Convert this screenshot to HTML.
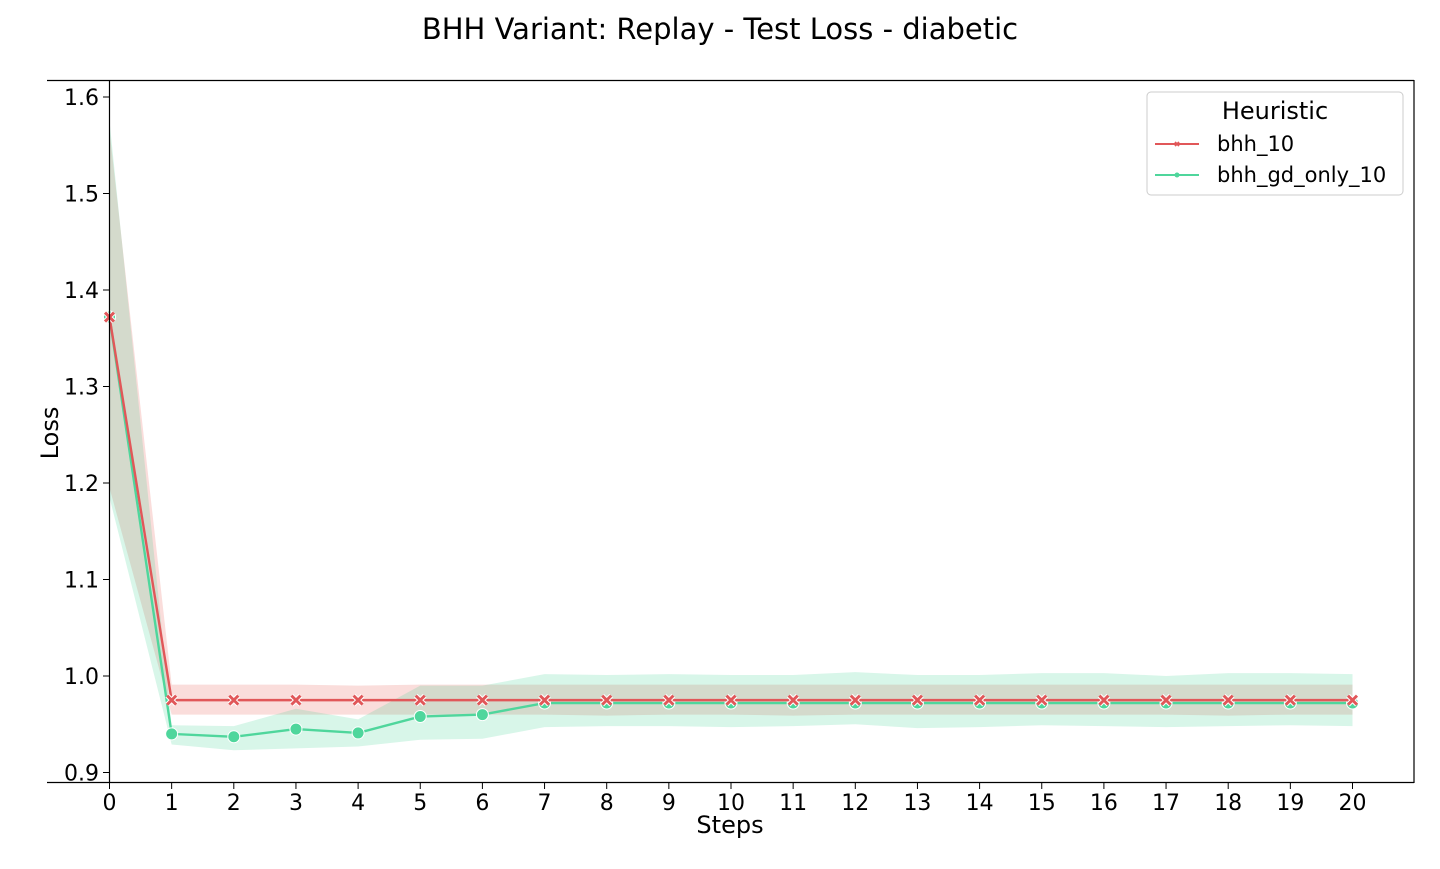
<!DOCTYPE html>
<html><head><meta charset="utf-8"><style>
body{margin:0;background:#fff;font-family:"Liberation Sans","DejaVu Sans",sans-serif}
svg text{font-family:"DejaVu Sans","Liberation Sans",sans-serif}
</style></head><body>
<svg id="c" width="1440" height="864" xmlns="http://www.w3.org/2000/svg">
<text x="720" y="39" font-size="29" text-anchor="middle">BHH Variant: Replay - Test Loss - diabetic</text>
<g id="bands"></g><g id="lines"></g>
<line x1="47" y1="80.5" x2="1414" y2="80.5" stroke="#000" stroke-width="1.2"/>
<line x1="47" y1="782.5" x2="1414" y2="782.5" stroke="#000" stroke-width="1.2"/>
<line x1="1414" y1="80" x2="1414" y2="783" stroke="#000" stroke-width="1.2"/>
<line x1="109.5" y1="80" x2="109.5" y2="783" stroke="#000" stroke-width="1.2"/>
<g id="ticks"></g>
<text x="730" y="833" font-size="24" text-anchor="middle">Steps</text>
<text transform="translate(58,433) rotate(-90)" font-size="24" text-anchor="middle">Loss</text>
<g>
<rect x="1147" y="92" width="256" height="103" rx="4" fill="#fff" stroke="#ccc"/>
<text x="1275" y="119" font-size="24" text-anchor="middle">Heuristic</text>
<line x1="1155" y1="144" x2="1199" y2="144" stroke="#e15759" stroke-width="2"/>
<path d="M1175,142L1179,146M1175,146L1179,142" stroke="#e15759" stroke-width="1.8"/>
<text x="1217" y="151" font-size="21">bhh_10</text>
<line x1="1155" y1="175" x2="1199" y2="175" stroke="#4fd69c" stroke-width="2"/>
<circle cx="1177" cy="175" r="2.5" fill="#4fd69c"/>
<text x="1217" y="182" font-size="21">bhh_gd_only_10</text>
</g>
</svg>
<script>
const steps=[0,1,2,3,4,5,6,7,8,9,10,11,12,13,14,15,16,17,18,19,20];
const redMean=[1.372,0.975,0.975,0.975,0.975,0.975,0.975,0.975,0.975,0.975,0.975,0.975,0.975,0.975,0.975,0.975,0.975,0.975,0.975,0.975,0.975];
const redLo=[1.195,0.960,0.960,0.960,0.960,0.960,0.960,0.960,0.959,0.960,0.960,0.959,0.960,0.960,0.960,0.960,0.960,0.960,0.959,0.960,0.960];
const redHi=[1.565,0.991,0.991,0.991,0.990,0.991,0.991,0.991,0.991,0.991,0.991,0.991,0.991,0.991,0.991,0.991,0.991,0.991,0.991,0.991,0.991];
const grnMean=[1.372,0.940,0.937,0.945,0.941,0.958,0.960,0.972,0.972,0.972,0.972,0.972,0.972,0.972,0.972,0.972,0.972,0.972,0.972,0.972,0.972];
const grnLo=[1.185,0.929,0.923,0.925,0.927,0.934,0.935,0.947,0.948,0.948,0.947,0.948,0.950,0.946,0.947,0.949,0.948,0.947,0.948,0.949,0.948];
const grnHi=[1.575,0.949,0.948,0.966,0.955,0.990,0.990,1.002,1.001,1.002,1.001,1.001,1.004,1.001,1.001,1.003,1.003,1.000,1.003,1.003,1.002];
const yTicks=[0.9,1.0,1.1,1.2,1.3,1.4,1.5,1.6];
const X=s=>109.5+s*62.15, Y=v=>676-(v-1.0)*965;
const NS="http://www.w3.org/2000/svg";
function mk(t,a,p){const e=document.createElementNS(NS,t);for(const k in a)e.setAttribute(k,a[k]);p.appendChild(e);return e;}
const bands=document.getElementById('bands'),lines=document.getElementById('lines'),ticks=document.getElementById('ticks');
function band(lo,hi,col,name){
 const pts=steps.map((s,i)=>X(s)+','+Y(hi[i])).concat(steps.slice().reverse().map(s=>X(s)+','+Y(lo[s])));
 const p=mk('polygon',{points:pts.join(' '),fill:col,'fill-opacity':0.2},bands);
 
 
}
band(redLo,redHi,'#e8534a','band-bhh-10');
band(grnLo,grnHi,'#3ad490','band-bhh-gd-only-10');
function line(m,col,name){
 const l=mk('polyline',{points:steps.map((s,i)=>X(s)+','+Y(m[i])).join(' '),fill:'none',stroke:col,'stroke-width':2.4},lines);
 
 
}
line(grnMean,'#4fd69c','line-bhh-gd-only-10');
steps.forEach((s,i)=>{const c=mk('circle',{cx:X(s),cy:Y(grnMean[i]),r:6,fill:'#4fd69c',stroke:'#fff','stroke-width':1},lines);

});
line(redMean,'#e15759','line-bhh-10');
steps.forEach((s,i)=>{const x=X(s),y=Y(redMean[i]);const g=mk('g',{},lines);


mk('path',{d:`M${x-4.5},${y-4.5}L${x+4.5},${y+4.5}M${x-4.5},${y+4.5}L${x+4.5},${y-4.5}`,stroke:'#fff','stroke-width':5},g);
mk('path',{d:`M${x-4.5},${y-4.5}L${x+4.5},${y+4.5}M${x-4.5},${y+4.5}L${x+4.5},${y-4.5}`,stroke:'#e15759','stroke-width':3},g);});
steps.forEach(s=>{mk('line',{x1:X(s),y1:783,x2:X(s),y2:789,stroke:'#000'},ticks);
const t=mk('text',{x:X(s),y:810,'font-size':22,'text-anchor':'middle'},ticks);t.textContent=s;

});
yTicks.forEach(v=>{mk('line',{x1:103,y1:Y(v),x2:109.5,y2:Y(v),stroke:'#000'},ticks);
const t=mk('text',{x:99,y:Y(v)+8,'font-size':22,'text-anchor':'end'},ticks);t.textContent=v.toFixed(1);

});
</script>
</body></html>
